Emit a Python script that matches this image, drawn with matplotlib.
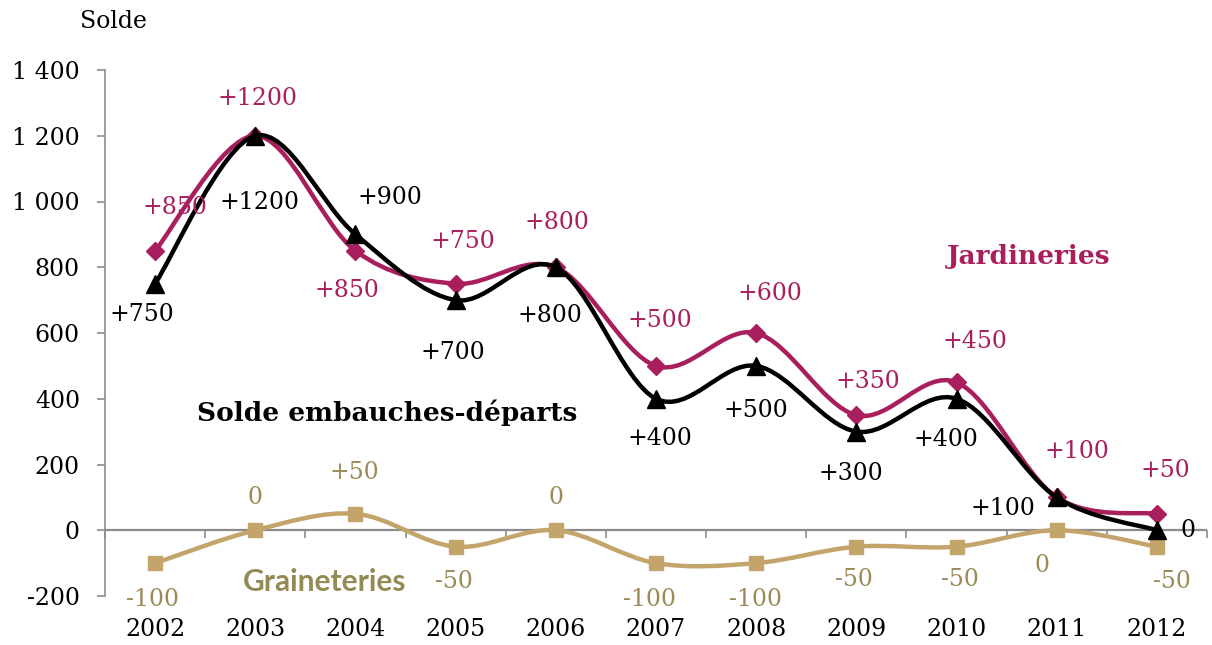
import numpy as np
import matplotlib
matplotlib.use("Agg")
import matplotlib.pyplot as plt
from matplotlib.path import Path
from matplotlib.patches import PathPatch
from matplotlib.ticker import FuncFormatter

years = [2002, 2003, 2004, 2005, 2006, 2007, 2008, 2009, 2010, 2011, 2012]
jardineries = [850, 1200, 850, 750, 800, 500, 600, 350, 450, 100, 50]
solde = [750, 1200, 900, 700, 800, 400, 500, 300, 400, 100, 0]
graineteries = [-100, 0, 50, -50, 0, -100, -100, -50, -50, 0, -50]

jard_labels = ["+850", "+1200", "+850", "+750", "+800", "+500", "+600", "+350", "+450", "+100", "+50"]
solde_labels = ["+750", "+1200", "+900", "+700", "+800", "+400", "+500", "+300", "+400", "+100", "0"]
grain_labels = ["-100", "0", "+50", "-50", "0", "-100", "-100", "-50", "-50", "0", "-50"]

# label offsets in pixels (dx, dy) relative to the point
jard_off = [(20, 43), (2, 37), (-9, -40), (7, 42), (1, 45), (4, 45), (14, 40), (12, 34), (18, 41), (20, 46), (8, 43)]
solde_off = [(-13, -31), (4, -67), (34, 37), (-3, -52), (-6, -48), (4, -40), (0, -45), (-5, -42), (-11, -41), (-54, -11), (31, 0)]
grain_off = [(-3, -36), (0, 33), (-1, 41), (-2, -35), (0, 33), (-6, -36), (-1, -36), (-2, -33), (3, -33), (-15, -35), (15, -35)]

C_JARD = "#A91F5E"
C_SOLDE = "#000000"
C_GRAIN = "#C3A46B"
C_GRAIN_TXT = "#9A8B58"
C_GRAIN_NAME = "#948A54"
C_AXIS = "#8C8C8C"

SERIF = "DejaVu Serif"
FS = 17
plt.rcParams["font.family"] = SERIF
plt.rcParams["font.size"] = FS

fig = plt.figure(figsize=(12.12, 6.45), dpi=100)
ax = fig.add_axes([105 / 1212, 1 - 596 / 645, (1207 - 105) / 1212, (596 - 70) / 645])
ax.set_xlim(2001.5, 2012.5)
ax.set_ylim(-200, 1400)


def smooth_path(xs, ys):
    xs = np.asarray(xs, float)
    ys = np.asarray(ys, float)
    n = len(xs)
    verts = [(xs[0], ys[0])]
    codes = [Path.MOVETO]
    for i in range(n - 1):
        i0 = max(i - 1, 0)
        i3 = min(i + 2, n - 1)
        c1 = (xs[i] + (xs[i + 1] - xs[i0]) / 6, ys[i] + (ys[i + 1] - ys[i0]) / 6)
        c2 = (xs[i + 1] - (xs[i3] - xs[i]) / 6, ys[i + 1] - (ys[i3] - ys[i]) / 6)
        verts += [c1, c2, (xs[i + 1], ys[i + 1])]
        codes += [Path.CURVE4] * 3
    return Path(verts, codes)


def draw_series(vals, color, marker, msize, z, labels, offs, tcolor):
    ax.add_patch(PathPatch(smooth_path(years, vals), facecolor="none", edgecolor=color,
                           lw=3.2, zorder=z, capstyle="round", joinstyle="round"))
    ax.plot(years, vals, linestyle="none", marker=marker, markersize=msize,
            color=color, zorder=z + 0.5, clip_on=False)
    for x, v, lab, (dx, dy) in zip(years, vals, labels, offs):
        ax.annotate(lab, (x, v), xytext=(dx, dy), textcoords="offset pixels",
                    ha="center", va="center", fontsize=FS, family=SERIF, color=tcolor,
                    zorder=10)


draw_series(graineteries, C_GRAIN, "s", 10, 3, grain_labels, grain_off, C_GRAIN_TXT)
draw_series(jardineries, C_JARD, "D", 9, 4, jard_labels, jard_off, C_JARD)
draw_series(solde, C_SOLDE, "^", 13, 5, solde_labels, solde_off, C_SOLDE)

# axes styling
for s in ["top", "right", "bottom"]:
    ax.spines[s].set_visible(False)
ax.spines["left"].set_color(C_AXIS)
ax.spines["left"].set_linewidth(1.2)
ax.set_yticks(np.arange(-200, 1401, 200))
ax.yaxis.set_major_formatter(FuncFormatter(lambda v, p: f"{int(v):,}".replace(",", " ")))
ax.tick_params(axis="y", direction="out", length=6, width=1.2, color=C_AXIS,
               labelsize=FS, pad=12)
ax.set_xticks(years)
ax.set_xticklabels([str(y) for y in years], fontsize=FS)
ax.tick_params(axis="x", length=0, labelsize=FS, pad=16)
for lab in ax.get_xticklabels() + ax.get_yticklabels():
    lab.set_family(SERIF)
    lab.set_fontsize(FS)

# category axis line at zero with tick marks between categories
ax.axhline(0, color=C_AXIS, lw=1.6, zorder=1)
sec = ax.secondary_xaxis(200 / 1600)
sec.spines["bottom"].set_visible(False)
sec.set_xticks(np.arange(2001.5, 2012.6, 1.0))
sec.set_xticklabels([])
sec.tick_params(axis="x", direction="out", length=6, width=1.2, color=C_AXIS)

# series names and title
fig.text(113 / 1212, 1 - 22 / 645, "Solde", ha="center", va="center",
         fontsize=FS, family=SERIF)
fig.text(387 / 1212, 1 - 413 / 645, "Solde embauches-départs", ha="center", va="center",
         fontsize=19, family=SERIF, fontweight="bold", color="black")
fig.text(1029 / 1212, 1 - 257 / 645, "Jardineries", ha="center", va="center",
         fontsize=19, family=SERIF, fontweight="bold", color=C_JARD)
fig.text(325 / 1212, 1 - 582 / 645, "Graineteries", ha="center", va="center",
         fontsize=21.5, family="Lato", fontweight="bold", color=C_GRAIN_NAME)

fig.savefig("out.png", dpi=100)
